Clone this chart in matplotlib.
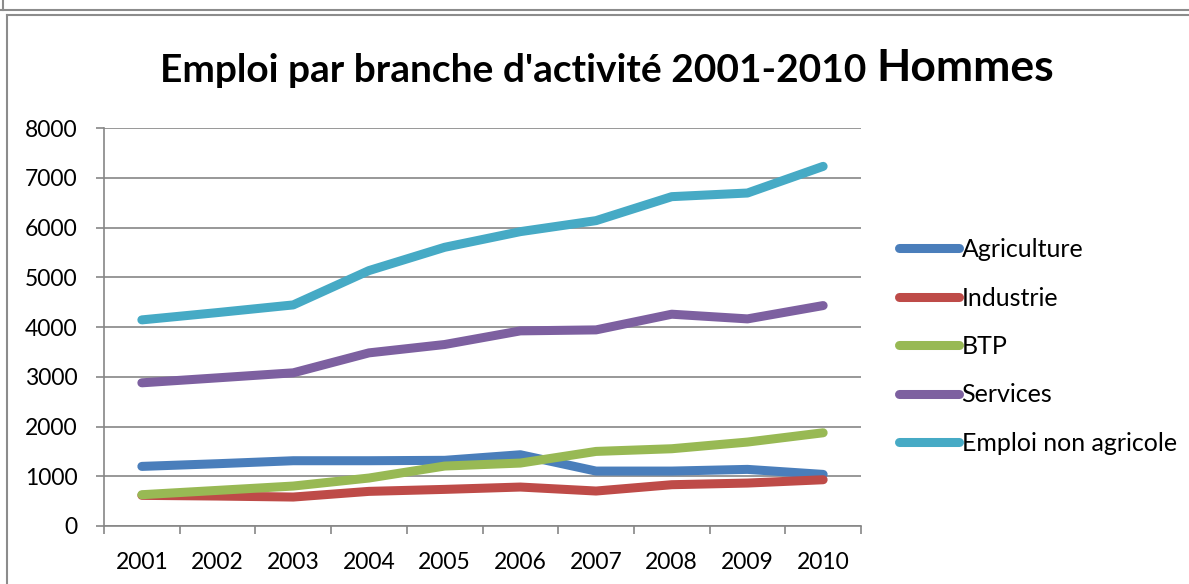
import matplotlib
matplotlib.use('Agg')
import matplotlib.pyplot as plt
from matplotlib.lines import Line2D
import numpy as np

plt.rcParams['font.family'] = ['Lato', 'DejaVu Sans']

# Données
annees = ['2001', '2002', '2003', '2004', '2005', '2006', '2007', '2008', '2009', '2010']
agriculture = [1198, 1252, 1312, 1312, 1320, 1432, 1104, 1104, 1138, 1037]
industrie = [616, 602, 582, 696, 736, 783, 703, 830, 863, 930]
btp = [629, 716, 803, 964, 1205, 1265, 1499, 1553, 1687, 1874]
services = [2878, 2978, 3079, 3480, 3648, 3922, 3942, 4257, 4163, 4431]
emploi_non_agricole = [4143, 4290, 4444, 5134, 5602, 5917, 6138, 6620, 6693, 7229]

series = [
    ('Agriculture', agriculture, '#4A7EBB'),
    ('Industrie', industrie, '#BE4B48'),
    ('BTP', btp, '#98B954'),
    ('Services', services, '#7D60A0'),
    ('Emploi non agricole', emploi_non_agricole, '#46AAC5'),
]

W, H = 1189, 584
fig = plt.figure(figsize=(W / 100, H / 100), dpi=100)
grid_col = '#868686'

# cadres autour du graphique
for x0, y0, x1, y1 in [(0, 10, W, 10), (3, 0, 3, 10), (7, 15, W, 15), (7, 15, 7, H)]:
    fig.add_artist(Line2D([x0 / W, x1 / W], [1 - y0 / H, 1 - y1 / H],
                          color='#8C8C8C', lw=1.5, transform=fig.transFigure))

ax = fig.add_axes([104 / W, (H - 526) / H, (861 - 104) / W, (526 - 128) / H])
x = np.arange(len(annees))
for nom, vals, col in series:
    ax.plot(x, vals, color=col, lw=6.5, solid_capstyle='round',
            solid_joinstyle='round', label=nom)

ax.set_xlim(-0.5, len(annees) - 0.5)
ax.set_ylim(0, 8000)
ax.set_yticks(range(0, 8001, 1000))
ax.set_xticks(x)
ax.set_xticklabels(annees)
ax.set_xticks(np.arange(-0.5, len(annees)), minor=True)
ax.tick_params(axis='x', which='major', length=0, pad=19, labelsize=16.5)
ax.tick_params(axis='x', which='minor', length=6, width=1.2, color=grid_col, direction='out')
ax.tick_params(axis='y', length=6, width=1.2, color=grid_col, pad=13, labelsize=16.5)
ax.yaxis.grid(True, color=grid_col, lw=1.2)
ax.set_axisbelow(True)
for s in ['top', 'right']:
    ax.spines[s].set_visible(False)
for s in ['left', 'bottom']:
    ax.spines[s].set_color(grid_col)
    ax.spines[s].set_linewidth(1.2)

# titre
fig.text(866 / W, 1 - 70 / H, "Emploi par branche d'activité 2001-2010",
         ha='right', va='center', fontsize=28, fontweight='bold')
fig.text(876 / W, 1 - 68 / H, 'Hommes', ha='left', va='center',
         fontsize=32, fontweight='bold')

fig.legend(loc='upper left', bbox_to_anchor=(899 / W, 1 - 238 / H),
           frameon=False, fontsize=18, handlelength=2.4, handletextpad=0.1,
           labelspacing=1.02, borderaxespad=0, borderpad=0)

fig.savefig('out.png', dpi=100)
